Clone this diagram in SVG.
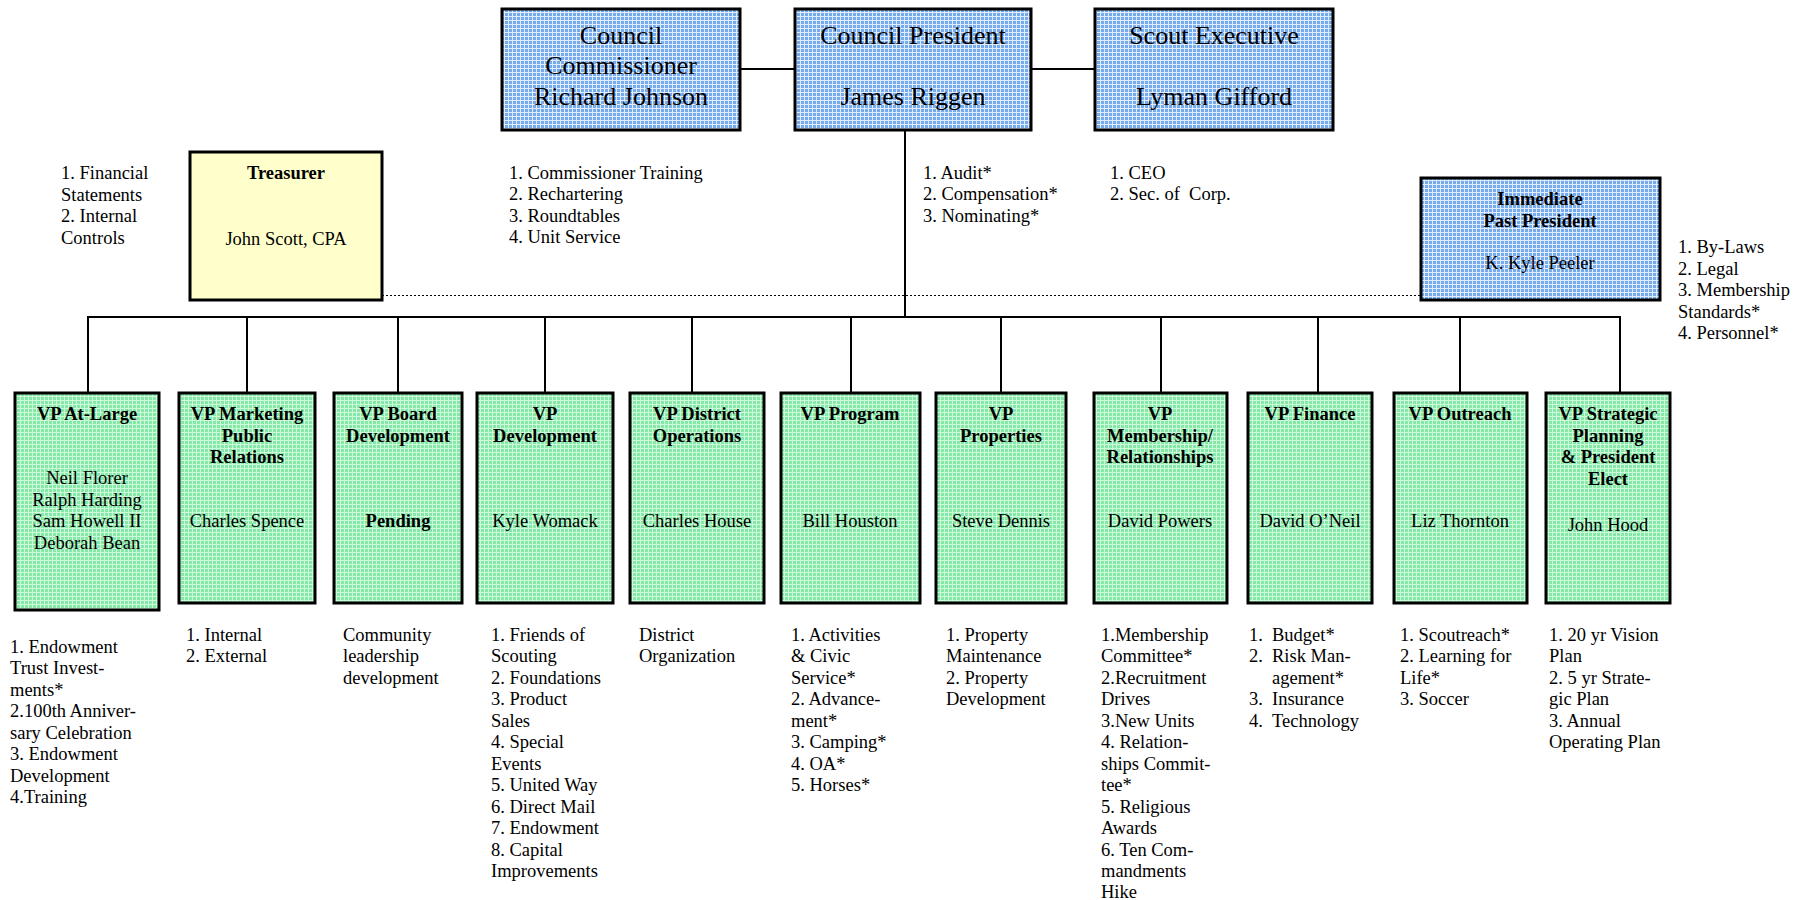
<svg xmlns="http://www.w3.org/2000/svg" width="1811" height="900" viewBox="0 0 1811 900">
<style>
text{font-family:"Liberation Serif","Times New Roman",serif;fill:#000}
.big{font-size:26px;text-anchor:middle}
.t{font-size:18.5px}
.c{text-anchor:middle}
.b{font-weight:bold}
.box{stroke:#000;stroke-width:3}
.blue{fill:url(#blueTex)}
.green{fill:url(#greenTex)}
.yellow{fill:#FFFFCC}
.conn{stroke:#000;stroke-width:2;fill:none}
.dot{stroke:#000;stroke-width:1;stroke-dasharray:2 2;fill:none}
</style>
<defs>
<pattern id="blueTex" width="4" height="4" patternUnits="userSpaceOnUse"><rect width="4" height="4" fill="#76AAEA"/><path d="M0 0.5H4M0.5 0V4" stroke="#E0ECFF" stroke-width="1"/></pattern>
<pattern id="greenTex" width="4" height="4" patternUnits="userSpaceOnUse"><rect width="4" height="4" fill="#86E8A8"/><path d="M0 0.5H4M0.5 0V4" stroke="#CCFADA" stroke-width="1"/></pattern>
</defs>
<rect width="1811" height="900" fill="#fff"/>

<g id="connectors">
<line class="conn" x1="740" y1="69" x2="795" y2="69"/>
<line class="conn" x1="1031" y1="69" x2="1095" y2="69"/>
<line class="conn" x1="905" y1="130" x2="905" y2="317"/>
<line class="conn" x1="87" y1="317" x2="1621" y2="317"/>
<line class="conn" x1="88" y1="317" x2="88" y2="393"/>
<line class="conn" x1="247" y1="317" x2="247" y2="393"/>
<line class="conn" x1="398" y1="317" x2="398" y2="393"/>
<line class="conn" x1="545" y1="317" x2="545" y2="393"/>
<line class="conn" x1="692" y1="317" x2="692" y2="393"/>
<line class="conn" x1="851" y1="317" x2="851" y2="393"/>
<line class="conn" x1="1001" y1="317" x2="1001" y2="393"/>
<line class="conn" x1="1161" y1="317" x2="1161" y2="393"/>
<line class="conn" x1="1318" y1="317" x2="1318" y2="393"/>
<line class="conn" x1="1460" y1="317" x2="1460" y2="393"/>
<line class="conn" x1="1620" y1="317" x2="1620" y2="393"/>
<line class="dot" x1="382" y1="295.5" x2="1421" y2="295.5"/>
</g>

<g id="commissioner">
<rect class="box blue" x="502" y="9" width="238" height="121"/>
<text class="big" x="621" y="44">Council</text>
<text class="big" x="621" y="74">Commissioner</text>
<text class="big" x="621" y="105">Richard Johnson</text>
</g>
<g id="president">
<rect class="box blue" x="795" y="9" width="236" height="121"/>
<text class="big" x="913" y="44">Council President</text>
<text class="big" x="913" y="105">James Riggen</text>
</g>
<g id="executive">
<rect class="box blue" x="1095" y="9" width="238" height="121"/>
<text class="big" x="1214" y="44">Scout Executive</text>
<text class="big" x="1214" y="105">Lyman Gifford</text>
</g>

<g id="treasurer">
<rect class="box yellow" x="190" y="152" width="192" height="148"/>
<text class="t c b" x="286" y="179">Treasurer</text>
<text class="t c" x="286" y="245">John Scott, CPA</text>
</g>
<g id="past-president">
<rect class="box blue" x="1421" y="178" width="239" height="122"/>
<text class="t c b" x="1540" y="205">Immediate</text>
<text class="t c b" x="1540" y="227">Past President</text>
<text class="t c" x="1540" y="269">K. Kyle Peeler</text>
</g>

<g id="notes-top">
<text class="t" x="61" y="179"><tspan x="61">1. Financial</tspan><tspan x="61" dy="21.6">Statements</tspan><tspan x="61" dy="21.6">2. Internal</tspan><tspan x="61" dy="21.6">Controls</tspan></text>
<text class="t" x="509" y="179"><tspan x="509">1. Commissioner Training</tspan><tspan x="509" dy="21.4">2. Rechartering</tspan><tspan x="509" dy="21.4">3. Roundtables</tspan><tspan x="509" dy="21.4">4. Unit Service</tspan></text>
<text class="t" x="923" y="179"><tspan x="923">1. Audit*</tspan><tspan x="923" dy="21.4">2. Compensation*</tspan><tspan x="923" dy="21.4">3. Nominating*</tspan></text>
<text class="t" x="1110" y="179"><tspan x="1110">1. CEO</tspan><tspan x="1110" dy="21.4">2. Sec. of&#160; Corp.</tspan></text>
<text class="t" x="1678" y="253"><tspan x="1678">1. By-Laws</tspan><tspan x="1678" dy="21.5">2. Legal</tspan><tspan x="1678" dy="21.5">3. Membership</tspan><tspan x="1678" dy="21.5">Standards*</tspan><tspan x="1678" dy="21.5">4. Personnel*</tspan></text>
</g>

<g id="vp-at-large">
<rect class="box green" x="15" y="393" width="144" height="217"/>
<text class="t c b" x="87" y="420">VP At-Large</text>
<text class="t c" x="87" y="484"><tspan x="87">Neil Florer</tspan><tspan x="87" dy="21.6">Ralph Harding</tspan><tspan x="87" dy="21.6">Sam Howell II</tspan><tspan x="87" dy="21.6">Deborah Bean</tspan></text>
</g>
<g id="vp-marketing">
<rect class="box green" x="179" y="393" width="136" height="210"/>
<text class="t c b" x="247" y="420"><tspan x="247">VP Marketing</tspan><tspan x="247" dy="21.6">Public</tspan><tspan x="247" dy="21.6">Relations</tspan></text>
<text class="t c" x="247" y="527">Charles Spence</text>
</g>
<g id="vp-board">
<rect class="box green" x="334" y="393" width="128" height="210"/>
<text class="t c b" x="398" y="420"><tspan x="398">VP Board</tspan><tspan x="398" dy="21.6">Development</tspan></text>
<text class="t c b" x="398" y="527">Pending</text>
</g>
<g id="vp-development">
<rect class="box green" x="477" y="393" width="136" height="210"/>
<text class="t c b" x="545" y="420"><tspan x="545">VP</tspan><tspan x="545" dy="21.6">Development</tspan></text>
<text class="t c" x="545" y="527">Kyle Womack</text>
</g>
<g id="vp-district">
<rect class="box green" x="630" y="393" width="134" height="210"/>
<text class="t c b" x="697" y="420"><tspan x="697">VP District</tspan><tspan x="697" dy="21.6">Operations</tspan></text>
<text class="t c" x="697" y="527">Charles House</text>
</g>
<g id="vp-program">
<rect class="box green" x="781" y="393" width="139" height="210"/>
<text class="t c b" x="850" y="420">VP Program</text>
<text class="t c" x="850" y="527">Bill Houston</text>
</g>
<g id="vp-properties">
<rect class="box green" x="936" y="393" width="130" height="210"/>
<text class="t c b" x="1001" y="420"><tspan x="1001">VP</tspan><tspan x="1001" dy="21.6">Properties</tspan></text>
<text class="t c" x="1001" y="527">Steve Dennis</text>
</g>
<g id="vp-membership">
<rect class="box green" x="1094" y="393" width="133" height="210"/>
<text class="t c b" x="1160" y="420"><tspan x="1160">VP</tspan><tspan x="1160" dy="21.6">Membership/</tspan><tspan x="1160" dy="21.6">Relationships</tspan></text>
<text class="t c" x="1160" y="527">David Powers</text>
</g>
<g id="vp-finance">
<rect class="box green" x="1248" y="393" width="124" height="210"/>
<text class="t c b" x="1310" y="420">VP Finance</text>
<text class="t c" x="1310" y="527">David O’Neil</text>
</g>
<g id="vp-outreach">
<rect class="box green" x="1394" y="393" width="133" height="210"/>
<text class="t c b" x="1460" y="420">VP Outreach</text>
<text class="t c" x="1460" y="527">Liz Thornton</text>
</g>
<g id="vp-strategic">
<rect class="box green" x="1546" y="393" width="124" height="210"/>
<text class="t c b" x="1608" y="420"><tspan x="1608">VP Strategic</tspan><tspan x="1608" dy="21.6">Planning</tspan><tspan x="1608" dy="21.6">&amp; President</tspan><tspan x="1608" dy="21.6">Elect</tspan></text>
<text class="t c" x="1608" y="531">John Hood</text>
</g>

<g id="notes-bottom">
<text class="t" x="10" y="653"><tspan x="10">1. Endowment</tspan><tspan x="10" dy="21.45">Trust Invest-</tspan><tspan x="10" dy="21.45">ments*</tspan><tspan x="10" dy="21.45">2.100th Anniver-</tspan><tspan x="10" dy="21.45">sary Celebration</tspan><tspan x="10" dy="21.45">3. Endowment</tspan><tspan x="10" dy="21.45">Development</tspan><tspan x="10" dy="21.45">4.Training</tspan></text>
<text class="t" x="186" y="641"><tspan x="186">1. Internal</tspan><tspan x="186" dy="21.45">2. External</tspan></text>
<text class="t" x="343" y="641"><tspan x="343">Community</tspan><tspan x="343" dy="21.45">leadership</tspan><tspan x="343" dy="21.45">development</tspan></text>
<text class="t" x="491" y="641"><tspan x="491">1. Friends of</tspan><tspan x="491" dy="21.45">Scouting</tspan><tspan x="491" dy="21.45">2. Foundations</tspan><tspan x="491" dy="21.45">3. Product</tspan><tspan x="491" dy="21.45">Sales</tspan><tspan x="491" dy="21.45">4. Special</tspan><tspan x="491" dy="21.45">Events</tspan><tspan x="491" dy="21.45">5. United Way</tspan><tspan x="491" dy="21.45">6. Direct Mail</tspan><tspan x="491" dy="21.45">7. Endowment</tspan><tspan x="491" dy="21.45">8. Capital</tspan><tspan x="491" dy="21.45">Improvements</tspan></text>
<text class="t" x="639" y="641"><tspan x="639">District</tspan><tspan x="639" dy="21.45">Organization</tspan></text>
<text class="t" x="791" y="641"><tspan x="791">1. Activities</tspan><tspan x="791" dy="21.45">&amp; Civic</tspan><tspan x="791" dy="21.45">Service*</tspan><tspan x="791" dy="21.45">2. Advance-</tspan><tspan x="791" dy="21.45">ment*</tspan><tspan x="791" dy="21.45">3. Camping*</tspan><tspan x="791" dy="21.45">4. OA*</tspan><tspan x="791" dy="21.45">5. Horses*</tspan></text>
<text class="t" x="946" y="641"><tspan x="946">1. Property</tspan><tspan x="946" dy="21.45">Maintenance</tspan><tspan x="946" dy="21.45">2. Property</tspan><tspan x="946" dy="21.45">Development</tspan></text>
<text class="t" x="1101" y="641"><tspan x="1101">1.Membership</tspan><tspan x="1101" dy="21.45">Committee*</tspan><tspan x="1101" dy="21.45">2.Recruitment</tspan><tspan x="1101" dy="21.45">Drives</tspan><tspan x="1101" dy="21.45">3.New Units</tspan><tspan x="1101" dy="21.45">4. Relation-</tspan><tspan x="1101" dy="21.45">ships Commit-</tspan><tspan x="1101" dy="21.45">tee*</tspan><tspan x="1101" dy="21.45">5. Religious</tspan><tspan x="1101" dy="21.45">Awards</tspan><tspan x="1101" dy="21.45">6. Ten Com-</tspan><tspan x="1101" dy="21.45">mandments</tspan><tspan x="1101" dy="21.45">Hike</tspan></text>
<text class="t" x="1249" y="641"><tspan x="1249">1.</tspan><tspan x="1272">Budget*</tspan><tspan x="1249" dy="21.45">2.</tspan><tspan x="1272">Risk Man-</tspan><tspan x="1272" dy="21.45">agement*</tspan><tspan x="1249" dy="21.45">3.</tspan><tspan x="1272">Insurance</tspan><tspan x="1249" dy="21.45">4.</tspan><tspan x="1272">Technology</tspan></text>
<text class="t" x="1400" y="641"><tspan x="1400">1. Scoutreach*</tspan><tspan x="1400" dy="21.45">2. Learning for</tspan><tspan x="1400" dy="21.45">Life*</tspan><tspan x="1400" dy="21.45">3. Soccer</tspan></text>
<text class="t" x="1549" y="641"><tspan x="1549">1. 20 yr Vision</tspan><tspan x="1549" dy="21.45">Plan</tspan><tspan x="1549" dy="21.45">2. 5 yr Strate-</tspan><tspan x="1549" dy="21.45">gic Plan</tspan><tspan x="1549" dy="21.45">3. Annual</tspan><tspan x="1549" dy="21.45">Operating Plan</tspan></text>
</g>
</svg>
